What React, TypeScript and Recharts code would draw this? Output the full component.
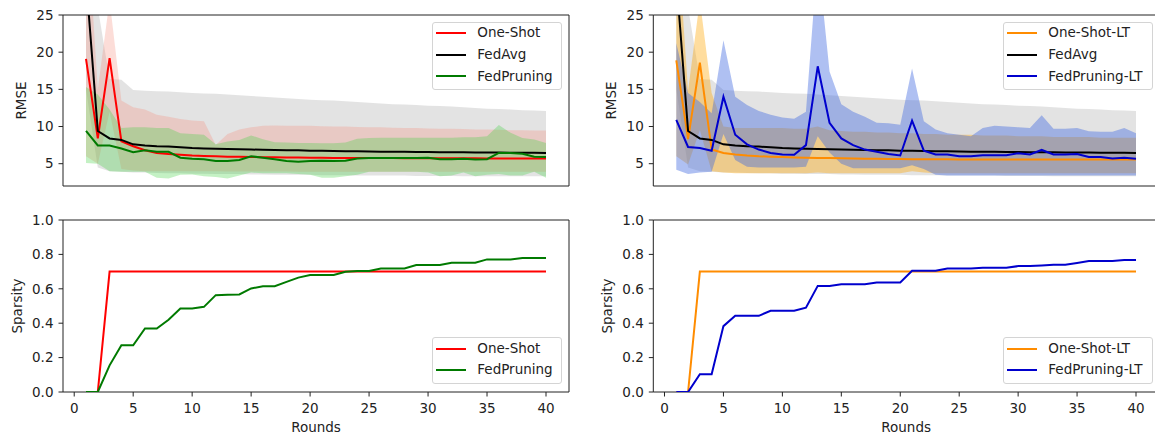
import { ComposedChart, Line, Area, XAxis, YAxis, ReferenceArea } from 'recharts'

const FONT = '"DejaVu Sans", sans-serif'
const INK = '#222'

const rounds = [1, 2, 3, 4, 5, 6, 7, 8, 9, 10, 11, 12, 13, 14, 15, 16, 17, 18, 19, 20, 21, 22, 23, 24, 25, 26, 27, 28, 29, 30, 31, 32, 33, 34, 35, 36, 37, 38, 39, 40]
const xTicks = [0, 5, 10, 15, 20, 25, 30, 35, 40]
const rmseTicks = [5, 10, 15, 20, 25]
const sparsityTicks = [0, 0.2, 0.4, 0.6, 0.8, 1.0]

// RMSE, mean and band edges
const fedAvgRmse = [30, 9.4, 8.4, 8.2, 7.6, 7.45, 7.35, 7.3, 7.2, 7.1, 7.05, 7.0, 6.98, 6.95, 6.9, 6.88, 6.85, 6.82, 6.8, 6.75, 6.73, 6.7, 6.68, 6.66, 6.64, 6.62, 6.6, 6.59, 6.58, 6.56, 6.55, 6.54, 6.53, 6.52, 6.5, 6.49, 6.48, 6.47, 6.46, 6.45]
const fedAvgHigh = [45, 26, 16.4, 16.3, 14.9, 14.8, 14.75, 14.7, 14.6, 14.5, 14.45, 14.4, 14.3, 14.2, 14.1, 14.0, 13.9, 13.8, 13.7, 13.6, 13.55, 13.5, 13.4, 13.3, 13.2, 13.1, 13.0, 12.95, 12.9, 12.8, 12.75, 12.7, 12.6, 12.5, 12.4, 12.35, 12.3, 12.2, 12.15, 12.1]
const fedAvgLow = [15, 4.5, 4.0, 3.9, 3.8, 3.8, 3.75, 3.7, 3.7, 3.65, 3.65, 3.6, 3.6, 3.6, 3.55, 3.55, 3.5, 3.5, 3.5, 3.5, 3.45, 3.45, 3.45, 3.4, 3.4, 3.4, 3.4, 3.4, 3.35, 3.35, 3.35, 3.35, 3.3, 3.3, 3.3, 3.3, 3.3, 3.3, 3.3, 3.3]

const oneShotRmse = [19.1, 8.4, 19.2, 8.0, 7.35, 6.8, 6.45, 6.3, 6.2, 6.1, 6.05, 6.0, 5.95, 5.92, 5.9, 5.88, 5.86, 5.84, 5.82, 5.8, 5.8, 5.78, 5.78, 5.76, 5.76, 5.75, 5.75, 5.74, 5.74, 5.73, 5.73, 5.72, 5.72, 5.72, 5.71, 5.71, 5.7, 5.7, 5.7, 5.7]
const oneShotHigh = [40, 15, 27, 13.5, 12.6, 12.3, 11.6, 11.3, 11.0, 10.8, 10.7, 7.5, 9.0, 9.6, 9.9, 10.1, 10.15, 10.1, 10.1, 10.1, 10.05, 10.0, 10.0, 9.95, 9.9, 9.9, 9.85, 9.8, 9.8, 9.75, 9.7, 9.7, 9.65, 9.6, 9.6, 9.55, 9.5, 9.5, 9.45, 9.45]
const oneShotLow = [6.0, 5.0, 12, 4.3, 4.1, 4.0, 4.0, 4.0, 4.0, 4.0, 4.0, 4.0, 3.95, 3.95, 3.95, 3.95, 3.95, 3.95, 3.9, 3.9, 3.9, 3.9, 3.9, 3.9, 3.9, 3.9, 3.9, 3.9, 3.9, 3.9, 3.9, 3.9, 3.9, 3.9, 3.9, 3.9, 3.9, 3.9, 3.9, 3.9]

const fedPruningRmse = [9.4, 7.45, 7.45, 7.05, 6.55, 6.8, 6.6, 6.6, 5.8, 5.65, 5.6, 5.35, 5.35, 5.5, 6.0, 5.8, 5.6, 5.35, 5.25, 5.35, 5.4, 5.35, 5.4, 5.7, 5.75, 5.75, 5.75, 5.75, 5.75, 5.8, 5.6, 5.6, 5.65, 5.55, 5.6, 6.45, 6.45, 6.35, 5.95, 5.9]
const fedPruningHigh = [15.3, 14.3, 12.3, 9.8, 9.9, 9.9, 9.8, 9.8, 9.1, 9.0, 8.9, 7.6, 8.0, 8.2, 8.8, 8.3, 7.9, 7.85, 7.8, 7.8, 7.75, 7.75, 7.85, 8.35, 8.45, 8.5, 8.5, 8.5, 8.5, 8.5, 8.5, 8.5, 8.55, 8.55, 8.7, 10.2, 9.15, 8.45, 8.25, 7.8]
const fedPruningLow = [5.1, 5.0, 4.0, 3.9, 3.9, 3.9, 3.1, 3.0, 3.5, 3.55, 3.3, 3.2, 3.0, 3.4, 3.8, 3.7, 3.7, 3.7, 3.6, 3.5, 3.1, 3.1, 3.3, 3.5, 3.9, 3.9, 3.9, 3.9, 3.9, 3.8, 3.3, 3.4, 3.8, 3.3, 3.5, 3.6, 3.4, 3.4, 3.9, 3.1]

const oneShotLtRmse = [18.9, 8.3, 18.6, 6.9, 6.45, 6.25, 6.1, 6.0, 5.95, 5.9, 5.85, 5.8, 5.78, 5.75, 5.72, 5.7, 5.68, 5.66, 5.64, 5.62, 5.6, 5.6, 5.6, 5.6, 5.58, 5.58, 5.58, 5.58, 5.57, 5.57, 5.57, 5.56, 5.56, 5.56, 5.56, 5.55, 5.55, 5.55, 5.55, 5.55]
const oneShotLtHigh = [38, 14.8, 27, 14.5, 10.0, 9.8, 9.8, 9.8, 9.8, 9.8, 9.7, 9.7, 10.0, 9.5, 9.4, 9.3, 9.3, 9.2, 9.2, 9.1, 9.1, 9.0, 9.0, 8.9, 8.9, 8.9, 8.8, 8.8, 8.8, 8.7, 8.7, 8.7, 8.6, 8.6, 8.6, 8.6, 8.5, 8.5, 8.5, 8.5]
const oneShotLtLow = [6.0, 4.9, 9.5, 4.0, 3.8, 3.7, 3.7, 3.7, 3.7, 3.7, 3.7, 3.7, 3.8, 3.7, 3.7, 3.7, 3.7, 3.7, 3.7, 3.7, 4.0, 3.8, 3.7, 3.7, 3.7, 3.7, 3.7, 3.7, 3.7, 3.7, 3.7, 3.7, 3.7, 3.7, 3.7, 3.7, 3.7, 3.7, 3.7, 3.7]

const fedPruningLtRmse = [10.9, 7.25, 7.1, 6.75, 14.0, 8.9, 7.6, 6.9, 6.45, 6.25, 6.2, 7.5, 18.1, 10.5, 8.4, 7.5, 6.9, 6.6, 6.3, 6.1, 10.8, 6.75, 6.25, 6.25, 6.0, 6.0, 6.15, 6.15, 6.15, 6.4, 6.25, 6.85, 6.25, 6.25, 6.3, 5.9, 5.9, 5.7, 5.8, 5.65]
const fedPruningLtHigh = [21.2, 14.5, 13.3, 11.8, 21.6, 14.0, 12.9, 12.1, 11.6, 11.2, 11.05, 12.0, 33, 17.4, 13.0, 12.0, 11.3, 10.5, 10.45, 10.25, 17.8, 10.7, 9.6, 9.1, 8.9, 8.7, 9.8, 10.1, 10.0, 9.9, 9.8, 11.5, 9.7, 9.7, 9.8, 9.35, 9.3, 9.3, 9.8, 9.1]
const fedPruningLtLow = [4.2, 3.6, 3.8, 3.9, 9.0, 5.5, 4.6, 4.5, 4.5, 4.5, 4.5, 4.6, 8.7, 6.5, 5.0, 4.4, 4.4, 4.4, 4.4, 4.4, 4.8, 4.3, 3.5, 3.4, 3.4, 3.4, 3.4, 3.4, 3.4, 3.4, 3.4, 3.4, 3.4, 3.4, 3.4, 3.4, 3.4, 3.4, 3.4, 3.4]

// sparsity
const oneShotSparsity = [0, 0, 0.7, 0.7, 0.7, 0.7, 0.7, 0.7, 0.7, 0.7, 0.7, 0.7, 0.7, 0.7, 0.7, 0.7, 0.7, 0.7, 0.7, 0.7, 0.7, 0.7, 0.7, 0.7, 0.7, 0.7, 0.7, 0.7, 0.7, 0.7, 0.7, 0.7, 0.7, 0.7, 0.7, 0.7, 0.7, 0.7, 0.7, 0.7]
const fedPruningSparsity = [0, 0, 0.155, 0.272, 0.272, 0.369, 0.369, 0.42, 0.486, 0.486, 0.495, 0.563, 0.566, 0.567, 0.602, 0.615, 0.615, 0.64, 0.665, 0.68, 0.68, 0.68, 0.699, 0.703, 0.703, 0.718, 0.718, 0.718, 0.738, 0.738, 0.738, 0.751, 0.751, 0.751, 0.771, 0.771, 0.771, 0.779, 0.779, 0.779]
const oneShotLtSparsity = [0, 0, 0.7, 0.7, 0.7, 0.7, 0.7, 0.7, 0.7, 0.7, 0.7, 0.7, 0.7, 0.7, 0.7, 0.7, 0.7, 0.7, 0.7, 0.7, 0.7, 0.7, 0.7, 0.7, 0.7, 0.7, 0.7, 0.7, 0.7, 0.7, 0.7, 0.7, 0.7, 0.7, 0.7, 0.7, 0.7, 0.7, 0.7, 0.7]
const fedPruningLtSparsity = [0, 0, 0.103, 0.103, 0.383, 0.443, 0.443, 0.443, 0.472, 0.472, 0.472, 0.49, 0.617, 0.617, 0.627, 0.627, 0.627, 0.637, 0.637, 0.637, 0.705, 0.705, 0.705, 0.718, 0.718, 0.718, 0.722, 0.722, 0.722, 0.732, 0.732, 0.736, 0.74, 0.74, 0.75, 0.761, 0.761, 0.761, 0.767, 0.767]

const rmseLeft = rounds.map((r, i) => ({
  round: r,
  oneShot: oneShotRmse[i],
  fedAvg: fedAvgRmse[i],
  fedPruning: fedPruningRmse[i],
  avgBand: [fedAvgLow[i], fedAvgHigh[i]],
  oneShotBand: [oneShotLow[i], oneShotHigh[i]],
  pruningBand: [fedPruningLow[i], fedPruningHigh[i]],
}))

const rmseRight = rounds.map((r, i) => ({
  round: r,
  oneShot: oneShotLtRmse[i],
  fedAvg: fedAvgRmse[i],
  fedPruning: fedPruningLtRmse[i],
  avgBand: [fedAvgLow[i], fedAvgHigh[i]],
  oneShotBand: [oneShotLtLow[i], oneShotLtHigh[i]],
  pruningBand: [fedPruningLtLow[i], fedPruningLtHigh[i]],
}))

const sparsityLeft = rounds.map((r, i) => ({ round: r, oneShot: oneShotSparsity[i], fedPruning: fedPruningSparsity[i] }))
const sparsityRight = rounds.map((r, i) => ({ round: r, oneShot: oneShotLtSparsity[i], fedPruning: fedPruningLtSparsity[i] }))

type Series = { key: string; name: string; color: string }
type Band = { key: string; color: string; opacity: number }

const X_DOMAIN = [-0.95, 41.95]

function LegendBox({ items, left, top, width }: { items: Series[]; left: number; top: number; width: number }) {
  return (
    <div
      style={{
        position: 'absolute', left, top, width, height: items.length * 21.7 + 3,
        background: 'rgba(255,255,255,0.8)', border: '1px solid #d4d4d4', borderRadius: 3,
        boxSizing: 'border-box', fontFamily: FONT, fontSize: 13.5, color: INK,
      }}
    >
      {items.map((s, i) => (
        <div key={s.key}>
          <span style={{ position: 'absolute', left: 3, top: 9.3 + i * 21.7, width: 29.5, height: 2, background: s.color }} />
          <span style={{ position: 'absolute', left: 44, top: -0.5 + i * 21.7, lineHeight: '21.7px', whiteSpace: 'nowrap' }}>{s.name}</span>
        </div>
      ))}
    </div>
  )
}

type PanelProps = {
  left: number
  top: number
  height: number
  marginTop: number
  axisWidth: number
  data: any[]
  bands: Band[]
  lines: Series[]
  yDomain: number[]
  yTicks: number[]
  yLabel: string
  yLabelOffset: number
  bottom: boolean
  legendLeft: number
  legendTop: number
  legendWidth: number
}

function Panel(p: PanelProps) {
  const tickStyle = { fill: INK, fontSize: 13.5, fontFamily: FONT }
  return (
    <div style={{ position: 'absolute', left: p.left, top: p.top, width: 600, height: p.height }}>
      <ComposedChart width={600} height={p.height} data={p.data} margin={{ top: p.marginTop, right: 31, bottom: 0, left: 0 }}>
        <XAxis
          type="number"
          dataKey="round"
          domain={X_DOMAIN}
          ticks={xTicks}
          allowDataOverflow
          axisLine={false}
          tickLine={{ stroke: INK, strokeWidth: 1 }}
          tickSize={4.5}
          tickMargin={6.5}
          height={p.bottom ? 43 : 14}
          tick={p.bottom ? tickStyle : false}
          label={p.bottom ? { value: 'Rounds', position: 'insideBottom', offset: 3, fill: INK, fontSize: 13.5, fontFamily: FONT } : undefined}
        />
        <YAxis
          type="number"
          domain={p.yDomain}
          ticks={p.yTicks}
          allowDataOverflow
          axisLine={false}
          width={p.axisWidth}
          tickLine={{ stroke: INK, strokeWidth: 1 }}
          tickSize={4.5}
          tickMargin={5}
          tick={tickStyle}
          tickFormatter={(v: number) => (p.bottom ? v.toFixed(1) : String(v))}
          label={{ value: p.yLabel, angle: -90, position: 'insideLeft', offset: p.yLabelOffset, textAnchor: 'middle', fill: INK, fontSize: 13.5, fontFamily: FONT }}
        />
        {p.bands.map((b) => (
          <Area
            key={b.key}
            type="linear"
            dataKey={b.key}
            stroke="none"
            fill={b.color}
            fillOpacity={b.opacity}
            legendType="none"
            isAnimationActive={false}
          />
        ))}
        {p.lines.map((s) => (
          <Line
            key={s.key}
            type="linear"
            dataKey={s.key}
            name={s.name}
            stroke={s.color}
            strokeWidth={2}
            dot={false}
            isAnimationActive={false}
          />
        ))}
        <ReferenceArea
          x1={X_DOMAIN[0]}
          x2={X_DOMAIN[1]}
          y1={p.yDomain[0]}
          y2={p.yDomain[1]}
          fill="none"
          fillOpacity={0}
          stroke={INK}
          strokeWidth={1}
        />
      </ComposedChart>
      <LegendBox items={p.lines} left={p.legendLeft} top={p.legendTop} width={p.legendWidth} />
    </div>
  )
}

const leftBands: Band[] = [
  { key: 'avgBand', color: '#808080', opacity: 0.22 },
  { key: 'oneShotBand', color: '#f4907e', opacity: 0.3 },
  { key: 'pruningBand', color: '#3ccf3c', opacity: 0.3 },
]
const rightBands: Band[] = [
  { key: 'avgBand', color: '#808080', opacity: 0.22 },
  { key: 'oneShotBand', color: '#ffa500', opacity: 0.38 },
  { key: 'pruningBand', color: '#4169e1', opacity: 0.42 },
]

const leftRmseLines: Series[] = [
  { key: 'oneShot', name: 'One-Shot', color: '#ff0000' },
  { key: 'fedAvg', name: 'FedAvg', color: '#000000' },
  { key: 'fedPruning', name: 'FedPruning', color: '#007a00' },
]
const rightRmseLines: Series[] = [
  { key: 'oneShot', name: 'One-Shot-LT', color: '#ff8c00' },
  { key: 'fedAvg', name: 'FedAvg', color: '#000000' },
  { key: 'fedPruning', name: 'FedPruning-LT', color: '#0000cd' },
]

export default function App() {
  return (
    <div style={{ position: 'absolute', left: 0, top: 0, width: 1155, height: 435, overflow: 'hidden', background: '#fff' }}>
      <Panel
        left={0} top={0} height={200} marginTop={15} axisWidth={63}
        data={rmseLeft} bands={leftBands} lines={leftRmseLines}
        yDomain={[2, 25]} yTicks={rmseTicks} yLabel="RMSE" yLabelOffset={21.3} bottom={false}
        legendLeft={432.3} legendTop={21.7} legendWidth={129.4}
      />
      <Panel
        left={590} top={0} height={200} marginTop={15} axisWidth={63.3}
        data={rmseRight} bands={rightBands} lines={rightRmseLines}
        yDomain={[2, 25]} yTicks={rmseTicks} yLabel="RMSE" yLabelOffset={21.3} bottom={false}
        legendLeft={413.3} legendTop={21.7} legendWidth={149.4}
      />
      <Panel
        left={0} top={200} height={235} marginTop={20} axisWidth={63}
        data={sparsityLeft} bands={[]} lines={[leftRmseLines[0], leftRmseLines[2]]}
        yDomain={[0, 1]} yTicks={sparsityTicks} yLabel="Sparsity" yLabelOffset={17} bottom={true}
        legendLeft={432.3} legendTop={137.3} legendWidth={129.4}
      />
      <Panel
        left={590} top={200} height={235} marginTop={20} axisWidth={63.3}
        data={sparsityRight} bands={[]} lines={[rightRmseLines[0], rightRmseLines[2]]}
        yDomain={[0, 1]} yTicks={sparsityTicks} yLabel="Sparsity" yLabelOffset={17} bottom={true}
        legendLeft={413.3} legendTop={137.3} legendWidth={149.4}
      />
    </div>
  )
}
